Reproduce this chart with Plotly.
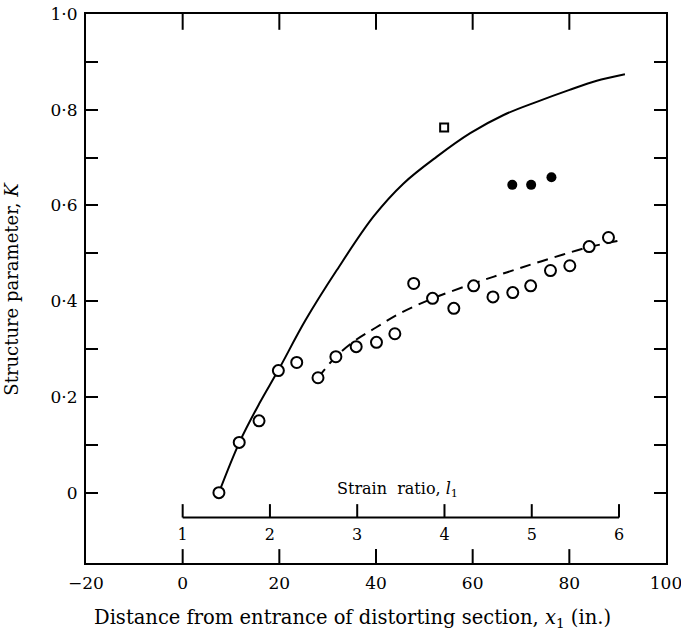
import plotly.graph_objects as go

# ---- data ----
open_x = [7.5, 11.7, 15.8, 19.8, 23.6, 28.0, 31.7, 35.9, 40.1, 43.9,
          47.8, 51.7, 56.1, 60.2, 64.2, 68.3, 72.0, 76.1, 80.1, 84.1, 88.1]
open_y = [0.0, 0.105, 0.150, 0.255, 0.272, 0.240, 0.284, 0.305, 0.314, 0.332,
          0.437, 0.406, 0.385, 0.432, 0.409, 0.418, 0.432, 0.464, 0.474, 0.514, 0.533]

filled_x = [68.2, 72.1, 76.3]
filled_y = [0.643, 0.643, 0.659]

square_x = [54.1]
square_y = [0.763]

solid_x = [7.5, 11.7, 15.8, 19.8, 25.4, 31.9, 39.5, 45.7, 52.6, 59.5, 66.4, 73.4, 79.9, 85.5, 91.5]
solid_y = [0.0, 0.104, 0.185, 0.256, 0.360, 0.465, 0.577, 0.646, 0.702, 0.751, 0.789, 0.817, 0.841, 0.860, 0.874]

dash_x = [28.0, 31.7, 35.7, 40.0, 45.0, 51.8, 60.2, 67.0, 74.1, 83.7, 90.6]
dash_y = [0.240, 0.284, 0.318, 0.345, 0.375, 0.406, 0.437, 0.460, 0.483, 0.512, 0.527]

x_ticks = [-20, 0, 20, 40, 60, 80, 100]
x_ticktext = ["\u221220", "0", "20", "40", "60", "80", "100"]
y_ticks = [0.0, 0.1, 0.2, 0.3, 0.4, 0.5, 0.6, 0.7, 0.8, 0.9, 1.0]
y_ticktext = ["0", " ", "0\u00b72", " ", "0\u00b74", " ", "0\u00b76", " ", "0\u00b78", " ", "1\u00b70"]
strain_ticks = [1, 2, 3, 4, 5, 6]

FONT = "DejaVu Serif"

x_lo, x_hi = -20, 100
y_lo, y_hi = -0.147, 1.0

# strain ratio scale: l maps onto distance x = (l - 1) * X_PER_L
X_PER_L = 18.056
def l_to_x(l):
    return (l - 1) * X_PER_L

STRAIN_AXIS_Y = -0.052   # vertical placement of the strain-ratio scale
STRAIN_TICK_H = 0.028
STRAIN_LABEL_DY = 0.038
X_TICK_H_BOTTOM = 0.029
X_TICK_H_TOP = 0.033

fig = go.Figure()

fig.add_trace(go.Scatter(x=solid_x, y=solid_y, mode="lines",
                         line=dict(color="black", width=2, shape="spline", smoothing=1.0),
                         showlegend=False, hoverinfo="skip"))
fig.add_trace(go.Scatter(x=dash_x, y=dash_y, mode="lines",
                         line=dict(color="black", width=2, dash="11px,7px", shape="spline", smoothing=1.0),
                         showlegend=False, hoverinfo="skip"))
fig.add_trace(go.Scatter(x=open_x, y=open_y, mode="markers",
                         marker=dict(symbol="circle", size=11, color="white",
                                     line=dict(color="black", width=2)),
                         showlegend=False))
fig.add_trace(go.Scatter(x=filled_x, y=filled_y, mode="markers",
                         marker=dict(symbol="circle", size=10, color="black"),
                         showlegend=False))
fig.add_trace(go.Scatter(x=square_x, y=square_y, mode="markers",
                         marker=dict(symbol="square", size=8, color="white",
                                     line=dict(color="black", width=2)),
                         showlegend=False))

# inward tick marks of the distance axis (bottom and top edges)
tx, ty = [], []
for v in x_ticks[1:-1]:
    tx += [v, v, None, v, v, None]
    ty += [y_lo, y_lo + X_TICK_H_BOTTOM, None, y_hi, y_hi - X_TICK_H_TOP, None]
fig.add_trace(go.Scatter(x=tx, y=ty, mode="lines", line=dict(color="black", width=2),
                         showlegend=False, hoverinfo="skip"))

# strain-ratio scale drawn inside the plot on the distance axis
sx, sy = [l_to_x(strain_ticks[0]), l_to_x(strain_ticks[-1])], [STRAIN_AXIS_Y, STRAIN_AXIS_Y]
for l in strain_ticks:
    sx += [None, l_to_x(l), l_to_x(l)]
    sy += [None, STRAIN_AXIS_Y, STRAIN_AXIS_Y + STRAIN_TICK_H]
fig.add_trace(go.Scatter(x=sx, y=sy, mode="lines", line=dict(color="black", width=2),
                         showlegend=False, hoverinfo="skip"))
fig.add_trace(go.Scatter(x=[l_to_x(l) for l in strain_ticks],
                         y=[STRAIN_AXIS_Y - STRAIN_LABEL_DY] * len(strain_ticks),
                         mode="text", text=[str(l) for l in strain_ticks],
                         textfont=dict(family=FONT, size=16, color="black"),
                         showlegend=False, hoverinfo="skip"))

fig.update_layout(
    width=681, height=635,
    margin=dict(l=86, r=15, t=14, b=72, autoexpand=False),
    paper_bgcolor="white", plot_bgcolor="white",
    font=dict(family=FONT, size=17, color="black"),
    xaxis=dict(range=[x_lo, x_hi], tickmode="array", tickvals=x_ticks, ticktext=x_ticktext,
               ticks="", showline=True, linewidth=2, linecolor="black", mirror=True,
               showgrid=False, zeroline=False, ticklabelstandoff=4,
               ticklabeloverflow="allow", automargin=False,
               tickfont=dict(family=FONT, size=17)),
    yaxis=dict(range=[y_lo, y_hi], tickmode="array", tickvals=y_ticks, ticktext=y_ticktext,
               ticks="inside", ticklen=12, tickwidth=2, tickcolor="black",
               showline=True, linewidth=2, linecolor="black", mirror="ticks",
               showgrid=False, zeroline=False, ticklabelstandoff=3, automargin=False,
               tickfont=dict(family=FONT, size=17)),
    annotations=[
        dict(text="Distance from entrance of distorting section, <i>x</i><sub>1</sub> (in.)",
             xref="paper", yref="paper", x=0.460, y=-0.102, xanchor="center", yanchor="middle",
             showarrow=False, font=dict(family=FONT, size=19.5)),
        dict(text="Structure parameter, <i>K</i>", textangle=-90,
             xref="paper", yref="paper", x=-0.129, y=0.5, xanchor="center", yanchor="middle",
             showarrow=False, font=dict(family=FONT, size=18)),
        dict(text="Strain  ratio, <i>l</i><sub>1</sub>",
             xref="x", yref="y", x=44.4, y=0.006, xanchor="center", yanchor="middle",
             showarrow=False, font=dict(family=FONT, size=16)),
    ],
)

fig.write_html("out.html")
